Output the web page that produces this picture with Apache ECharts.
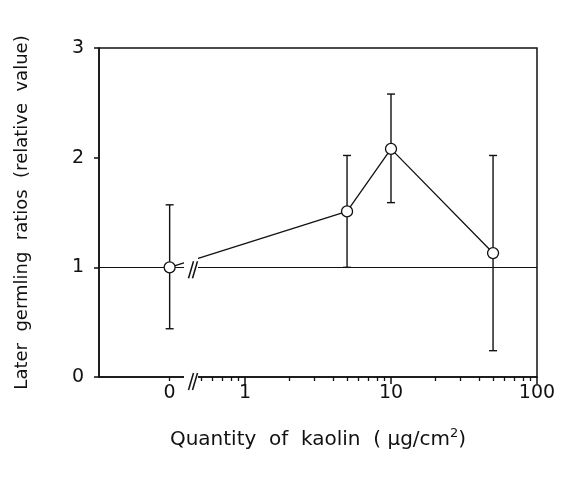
<!DOCTYPE html>
<html>
<head>
<meta charset="utf-8">
<script src="https://cdn.jsdelivr.net/npm/echarts@6/dist/echarts.min.js"></script>
<style>
  html, body { margin: 0; background: #fff; }
  #chart { width: 574px; height: 481px; }
</style>
</head>
<body>
<div id="chart"></div>
<script>
// data
const quantities = [0, 5, 10, 50]
const ratios = [1.0, 1.51, 2.08, 1.13]
const errLow = [0.44, 1.0, 1.59, 0.24]
const errHigh = [1.57, 2.02, 2.58, 2.02]
const referenceLevel = 1

// tick labels
const zeroTicks = [0]
const logMajorTicks = [1, 10, 100]
const logMinorTicks = [0.5, 0.6, 0.7, 0.8, 0.9, 2, 3, 4, 5, 6, 7, 8, 9, 20, 30, 40, 50, 60, 70, 80, 90]

const FONT = 'DejaVu Sans'
const INK = '#111'

const chart = echarts.init(document.getElementById('chart'))

// split points: the "0" point sits left of the axis break, the rest on the log scale
const zeroIdx = quantities.map((q, i) => i).filter(i => quantities[i] === 0)
const logIdx = quantities.map((q, i) => i).filter(i => quantities[i] > 0)

const errorBarItem = (params, api) => {
  const x = api.value(0)
  const lo = api.coord([x, api.value(1)])
  const hi = api.coord([x, api.value(2)])
  const cap = 4
  const style = { stroke: INK, lineWidth: 1.4 }
  return {
    type: 'group',
    children: [
      { type: 'line', shape: { x1: lo[0], y1: lo[1], x2: hi[0], y2: hi[1] }, style },
      { type: 'line', shape: { x1: lo[0] - cap, y1: lo[1], x2: lo[0] + cap, y2: lo[1] }, style },
      { type: 'line', shape: { x1: hi[0] - cap, y1: hi[1], x2: hi[0] + cap, y2: hi[1] }, style }
    ]
  }
}

const option = {
  animation: false,
  backgroundColor: '#fff',
  textStyle: { fontFamily: FONT, color: INK },
  grid: {
    left: 99,
    right: 37,
    top: 48,
    bottom: 104,
    show: true,
    borderColor: INK,
    borderWidth: 1.5
  },
  xAxis: [
    {
      // log scale, major ticks + labels
      type: 'log',
      min: 0.1,
      max: 100,
      position: 'bottom',
      axisLine: { show: true, onZero: false, lineStyle: { color: INK, width: 1.5 } },
      axisTick: { show: true, customValues: logMajorTicks, length: 7, lineStyle: { color: INK, width: 1.5 } },
      axisLabel: {
        customValues: logMajorTicks,
        color: INK, fontSize: 19, fontFamily: FONT, margin: 7
      },
      splitLine: { show: false },
      name: 'Quantity  of  kaolin  ( {mu|μ}g/cm{sup|2})',
      nameLocation: 'middle',
      nameGap: 50,
      nameTextStyle: {
        color: INK, fontSize: 20, fontFamily: FONT,
        rich: {
          mu: { fontSize: 20, fontFamily: FONT, color: INK },
          sup: { fontSize: 13, fontFamily: FONT, color: INK, verticalAlign: 'bottom', padding: [0, 0, 12, 0] }
        }
      }
    },
    {
      // log scale, minor ticks
      type: 'log',
      min: 0.1,
      max: 100,
      position: 'bottom',
      axisLine: { show: false, onZero: false },
      axisTick: { show: true, customValues: logMinorTicks, length: 4, lineStyle: { color: INK, width: 1.3 } },
      axisLabel: { show: false },
      splitLine: { show: false }
    },
    {
      // linear segment that carries the zero point
      type: 'value',
      min: -1,
      max: 5.2,
      position: 'bottom',
      axisLine: { show: false, onZero: false },
      axisTick: { show: true, customValues: zeroTicks, length: 4, lineStyle: { color: INK, width: 1.3 } },
      axisLabel: {
        customValues: zeroTicks,
        color: INK, fontSize: 19, fontFamily: FONT, margin: 7
      },
      splitLine: { show: false }
    }
  ],
  yAxis: {
    type: 'value',
    min: 0,
    max: 3,
    interval: 1,
    axisLine: { show: true, onZero: false, lineStyle: { color: INK, width: 1.5 } },
    axisTick: { show: true, length: 5, lineStyle: { color: INK, width: 1.5 } },
    axisLabel: { color: INK, fontSize: 19, fontFamily: FONT, margin: 15 },
    splitLine: { show: false },
    name: 'Later  germling  ratios  (relative  value)',
    nameLocation: 'middle',
    nameRotate: 90,
    nameGap: 68,
    nameTextStyle: { color: INK, fontSize: 18, fontFamily: FONT }
  },
  series: [
    {
      type: 'custom',
      xAxisIndex: 2,
      renderItem: errorBarItem,
      encode: { x: 0, y: [1, 2] },
      data: zeroIdx.map(i => [quantities[i], errLow[i], errHigh[i]]),
      z: 1
    },
    {
      type: 'custom',
      xAxisIndex: 0,
      renderItem: errorBarItem,
      encode: { x: 0, y: [1, 2] },
      data: logIdx.map(i => [quantities[i], errLow[i], errHigh[i]]),
      z: 1
    },
    {
      type: 'line',
      xAxisIndex: 0,
      data: logIdx.map(i => [quantities[i], ratios[i]]),
      symbol: 'circle',
      symbolSize: 11,
      itemStyle: { color: '#fff', borderColor: INK, borderWidth: 1.3 },
      lineStyle: { color: INK, width: 1.3 },
      z: 3,
      markLine: {
        silent: true,
        symbol: 'none',
        label: { show: false },
        lineStyle: { color: INK, width: 1, type: 'solid' },
        data: [{ yAxis: referenceLevel }],
        z: 1
      }
    },
    {
      type: 'scatter',
      xAxisIndex: 2,
      data: zeroIdx.map(i => [quantities[i], ratios[i]]),
      symbol: 'circle',
      symbolSize: 11,
      itemStyle: { color: '#fff', borderColor: INK, borderWidth: 1.3, opacity: 1 },
      z: 4
    }
  ]
}

chart.setOption(option)

// link from the zero point to the first log point, through the axes' own scales
const p0 = chart.convertToPixel({ xAxisIndex: 2, yAxisIndex: 0 }, [quantities[zeroIdx[0]], ratios[zeroIdx[0]]])
const p1 = chart.convertToPixel({ xAxisIndex: 0, yAxisIndex: 0 }, [quantities[logIdx[0]], ratios[logIdx[0]]])
const yRef = chart.convertToPixel({ yAxisIndex: 0 }, referenceLevel)
const yBase = chart.convertToPixel({ yAxisIndex: 0 }, 0)

// axis break decorations
const gapX0 = 184
const gapX1 = 198
const slash = (x, yc) => ({
  type: 'line', z: 102,
  shape: { x1: x - 2.5, y1: yc + 9, x2: x + 2.5, y2: yc - 8 },
  style: { stroke: INK, lineWidth: 1.5 }
})

chart.setOption({
  graphic: [
    {
      type: 'line', z: 2,
      shape: { x1: p0[0], y1: p0[1], x2: p1[0], y2: p1[1] },
      style: { stroke: INK, lineWidth: 1.3 }
    },
    { type: 'rect', z: 101, shape: { x: gapX0, y: yRef - 14, width: gapX1 - gapX0, height: 22 }, style: { fill: '#fff' } },
    { type: 'rect', z: 101, shape: { x: gapX0, y: yBase - 4, width: gapX1 - gapX0, height: 8 }, style: { fill: '#fff' } },
    slash(gapX0 + 7, yRef + 2), slash(gapX0 + 11, yRef + 2),
    slash(gapX0 + 7, yBase + 4), slash(gapX0 + 11, yBase + 4)
  ]
})
</script>
</body>
</html>
